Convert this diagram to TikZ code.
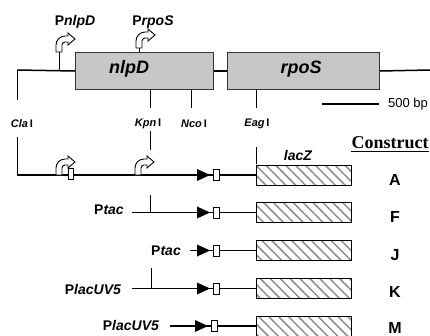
\documentclass[tikz,border=0pt]{standalone}
\usepackage{fontspec}
\setmainfont{Liberation Sans}
\newfontfamily\tnrfont{Liberation Serif}
\usetikzlibrary{patterns.meta}
\tikzset{
  dna/.style={line width=1.5pt},
  site/.style={line width=0.9pt},
  gene/.style={draw=black!80, fill=black!22, line width=1pt, inner sep=0pt, anchor=north west},
  lacz/.style={draw=black, line width=1pt, inner sep=0pt, anchor=west, minimum width=95pt, minimum height=20pt,
     pattern={Lines[angle=-45,distance=7pt,line width=1.5pt]}, pattern color=black!45},
  lbl/.style={font=\fontsize{14}{16}\selectfont\bfseries, inner sep=0pt},
  slbl/.style={font=\fontsize{11}{13}\selectfont\bfseries, inner sep=0pt},
  glbl/.style={font=\fontsize{18}{20}\selectfont\bfseries\itshape, inner sep=0pt},
  cname/.style={font=\fontsize{16}{18}\selectfont\bfseries, inner sep=0pt},
  sbox/.style={draw, fill=white, line width=0.8pt, minimum width=5.5pt, minimum height=11pt, inner sep=0pt},
  prom/.pic={
    \begin{scope}[yscale=-1]
      \draw[fill=white, line width=0.9pt] (-3,0) -- (-3,7) arc[start angle=180,end angle=90,radius=9]
        -- (9,16) -- (9,19) -- (16,13) -- (9,7) -- (9,10) -- (6,10)
        arc[start angle=90,end angle=180,radius=3] -- (3,0) -- cycle;
    \end{scope}
  },
  cass/.pic={
    \fill (0,-6) -- (13,0) -- (0,6) -- cycle;
    \node[sbox] (-b) at (19.5,0) {};
  }
}
\begin{document}
\begin{tikzpicture}[x=1pt,y=-1pt]
\useasboundingbox (0,0) rectangle (430,335);
% top map
\coordinate (L0) at (17,70);
\coordinate (R0) at (430,70);
\node[gene, minimum width=138pt, minimum height=37pt] (nlpD) at (75,52) {};
\node[gene, minimum width=152pt, minimum height=37pt] (rpoS) at (227,52) {};
\node[glbl] (nlpDl) at (129,69) {nlpD};
\node[glbl] (rpoSl) at (301,69) {rpoS};
\draw[dna] (L0) -- (nlpD.west);
\draw[dna] (nlpD.east) -- (rpoS.west);
\draw[dna] (rpoS.east) -- (R0);
% promoters on top
\coordinate (p1) at (59,52);
\coordinate (p2) at (139,48);
\draw[site] (59,70) -- (p1);
\draw[site] (139,52) -- (p2);
\pic at (p1) {prom};
\pic at (p2) {prom};
\node[lbl] (Pn) at (75,22) {P\textit{nlpD}};
\node[lbl] (Pr) at (153,22) {P\textit{rpoS}};
% sites
\coordinate (cla) at (17,100);
\coordinate (kpn) at (150,108);
\coordinate (nco) at (191,108);
\coordinate (eag) at (256,108);
\draw[site] (L0) -- (cla);
\draw[site] (150,89) -- (kpn);
\draw[site] (191,89) -- (nco);
\draw[site] (256,89) -- (eag);
\node[slbl] (clal) at (22,124) {\textit{Cla}\,I};
\node[slbl] (kpnl) at (148,124) {\textit{Kpn}\,I};
\node[slbl] (ncol) at (194,124) {\textit{Nco}\,I};
\node[slbl] (eagl) at (257,124) {\textit{Eag}\,I};
% scale
\coordinate (s1) at (322,104);
\coordinate (s2) at (379,104);
\draw[line width=1.2pt] (s1) -- (s2);
\node[font=\fontsize{13}{15}\selectfont, inner sep=0pt, anchor=west] (bp) at (388,104) {500 bp};
% header
\node[font=\fontsize{14}{16}\selectfont\bfseries\itshape, inner sep=0pt] (laczl) at (298,155) {lacZ};
\node[font=\tnrfont\fontsize{18}{20}\selectfont\bfseries, inner sep=0pt] (cons) at (390,143) {Construct};
\draw[line width=1pt] ([yshift=-2.5pt]cons.base west) -- ([yshift=-2.5pt]cons.base east);
% construct A
\node[lacz] (zA) at (256,175) {};
\coordinate (A0) at (17,175);
\draw[site] (17,137) -- (A0);
\draw[dna] (A0) -- (zA.west);
\draw[site] (256,147) -- (zA.north west);
\draw[site] (150,131) -- (150,150);
\pic at (59,175) {prom};
\pic at (138,175) {prom};
\node[sbox] (bA) at (71,174) {};
\pic (cA) at (197,175) {cass};
\node[cname] (nA) at (395,180) {A};
% construct F
\node[lacz] (zF) at (256,212.5) {};
\node[lbl] (tF) at (109,210) {P\textit{tac}};
\coordinate (F0) at (132,212.5);
\draw[dna] (F0) -- (zF.west);
\draw[site] (150,195) -- (150,212.5);
\pic (cF) at (197,212.5) {cass};
\node[cname] (nF) at (395,217) {F};
% construct J
\node[lacz] (zJ) at (256,250.5) {};
\node[lbl] (tJ) at (166,251) {P\textit{tac}};
\coordinate (J0) at (190,250.5);
\draw[dna] (J0) -- (zJ.west);
\pic (cJ) at (197,250.5) {cass};
\node[cname] (nJ) at (395,255) {J};
% construct K
\node[lacz] (zK) at (256,288.5) {};
\node[lbl] (tK) at (93,289) {P\textit{lacUV5}};
\coordinate (K0) at (132,288.5);
\draw[dna] (K0) -- (zK.west);
\draw[site] (151,268) -- (151,288.5);
\pic (cK) at (197,288.5) {cass};
\node[cname] (nK) at (395,292) {K};
% construct M
\node[lacz] (zM) at (256,326) {};
\node[lbl] (tM) at (131,325) {P\textit{lacUV5}};
\coordinate (M0) at (170,326);
\draw[dna] (M0) -- (zM.west);
\pic (cM) at (195,326) {cass};
\node[cname] (nM) at (395,327.5) {M};
\end{tikzpicture}
\end{document}
